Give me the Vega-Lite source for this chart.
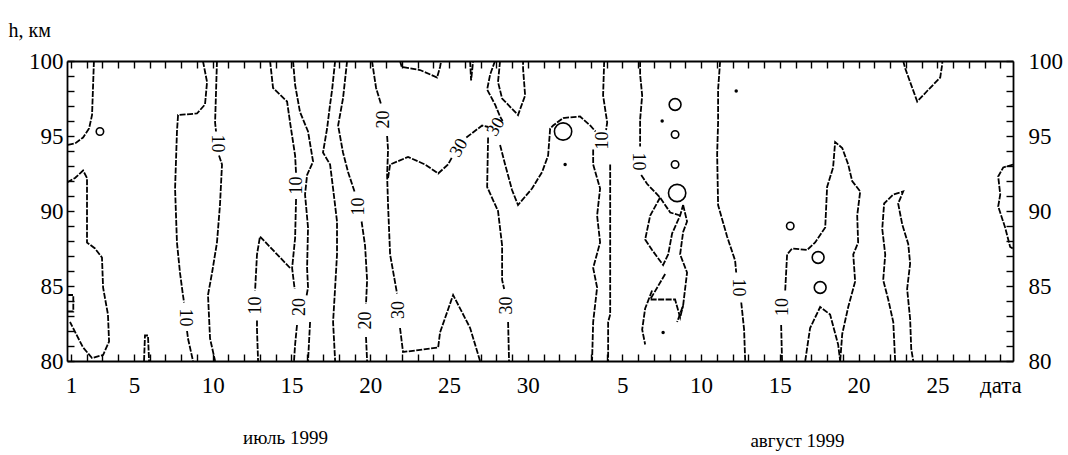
{
 "$schema": "https://vega.github.io/schema/vega-lite/v6.json",
 "width": 946, "height": 300,
 "autosize": {"type": "none"},
 "padding": {"left": 67, "top": 61, "right": 55, "bottom": 94},
 "background": "white",
 "config": {
  "view": {"stroke": null},
  "axis": {"grid": false, "domainColor": "black", "domainWidth": 1.8, "tickColor": "black", "tickWidth": 1.4, "labelColor": "black", "labelFont": "'Liberation Serif', 'Times New Roman', serif", "titleFont": "'Liberation Serif', 'Times New Roman', serif", "titleColor": "black", "titleFontWeight": "normal"}
 },
 "datasets": {
  "lines": [
   {"c":"A","d":2.46,"h":100},{"c":"A","d":2.40,"h":98.2},{"c":"A","d":2.34,"h":96.4},{"c":"A","d":2.15,"h":95.5},{"c":"A","d":1.77,"h":94.9},{"c":"A","d":1.26,"h":94.5},{"c":"A","d":0.75,"h":94.4},
   {"c":"B","d":0.75,"h":91.9},{"c":"B","d":1.26,"h":92.2},{"c":"B","d":1.77,"h":92.7},{"c":"B","d":2.02,"h":92.2},{"c":"B","d":2.02,"h":87.9},{"c":"B","d":2.53,"h":87.5},{"c":"B","d":2.97,"h":86.9},{"c":"B","d":3.04,"h":84.9},{"c":"B","d":3.35,"h":83.1},{"c":"B","d":3.42,"h":81.3},{"c":"B","d":3.04,"h":80.4},{"c":"B","d":2.34,"h":80.2},{"c":"B","d":1.77,"h":80.9},{"c":"B","d":0.94,"h":82.6},
   {"c":"Bb","d":0.75,"h":84.4},{"c":"Bb","d":1.15,"h":84.4},{"c":"Bb","d":1.15,"h":83.3},{"c":"Bb","d":0.75,"h":83.3},
   {"c":"B2","d":5.64,"h":80},{"c":"B2","d":5.70,"h":81.7},{"c":"B2","d":5.89,"h":81.7},{"c":"B2","d":5.96,"h":80},
   {"c":"C1","d":9.38,"h":100},{"c":"C1","d":9.64,"h":98.6},{"c":"C1","d":9.51,"h":97.1},{"c":"C1","d":9.00,"h":96.5},{"c":"C1","d":7.80,"h":96.4},{"c":"C1","d":7.73,"h":95.3},{"c":"C1","d":7.61,"h":91.5},{"c":"C1","d":7.73,"h":87.9},{"c":"C1","d":7.92,"h":85.9},{"c":"C1","d":8.11,"h":84.4},{"c":"C1","d":8.18,"h":83.9},
   {"c":"C2","d":8.37,"h":82.0},{"c":"C2","d":8.43,"h":81.5},{"c":"C2","d":8.75,"h":80},
   {"c":"D1","d":10.27,"h":100},{"c":"D1","d":10.15,"h":95.9},{"c":"D1","d":10.21,"h":95.3},
   {"c":"D2","d":10.40,"h":93.7},{"c":"D2","d":10.59,"h":93.1},{"c":"D2","d":10.46,"h":90.4},{"c":"D2","d":10.27,"h":87.9},{"c":"D2","d":9.96,"h":85.9},{"c":"D2","d":9.70,"h":84.4},{"c":"D2","d":9.83,"h":81.5},{"c":"D2","d":10.15,"h":80},
   {"c":"E1","d":13.64,"h":100},{"c":"E1","d":13.83,"h":98.2},{"c":"E1","d":14.72,"h":97.3},{"c":"E1","d":14.91,"h":95.9},{"c":"E1","d":15.23,"h":93.7},{"c":"E1","d":15.29,"h":92.5},
   {"c":"E2","d":15.29,"h":90.8},{"c":"E2","d":15.23,"h":88.2},{"c":"E2","d":15.04,"h":86.2},{"c":"E2","d":15.2,"h":84.8},
   {"c":"E3","d":15.35,"h":82.4},{"c":"E3","d":15.23,"h":81.1},{"c":"E3","d":15.16,"h":80},
   {"c":"F1","d":15.10,"h":100},{"c":"F1","d":15.23,"h":98.4},{"c":"F1","d":15.54,"h":96.6},{"c":"F1","d":16.05,"h":95.3},{"c":"F1","d":16.37,"h":93.3},{"c":"F1","d":15.99,"h":92.4},{"c":"F1","d":15.86,"h":91.1},{"c":"F1","d":16.05,"h":88.9},{"c":"F1","d":15.99,"h":86.2},{"c":"F1","d":16.05,"h":84.9},{"c":"F1","d":15.95,"h":84.3},
   {"c":"F2","d":16.18,"h":82.6},{"c":"F2","d":16.05,"h":80},
   {"c":"G1","d":14.91,"h":86.2},{"c":"G1","d":13.00,"h":88.3},{"c":"G1","d":12.81,"h":87.1},{"c":"G1","d":12.69,"h":84.7},
   {"c":"G2","d":12.81,"h":82.7},{"c":"G2","d":12.81,"h":82.1},{"c":"G2","d":12.88,"h":80},
   {"c":"H","d":17.77,"h":100},{"c":"H","d":17.58,"h":98.1},{"c":"H","d":17.45,"h":97.1},{"c":"H","d":17.26,"h":95.5},{"c":"H","d":17.00,"h":93.9},{"c":"H","d":17.45,"h":93.1},{"c":"H","d":17.64,"h":91.5},{"c":"H","d":17.89,"h":89.3},{"c":"H","d":17.89,"h":87.1},{"c":"H","d":17.77,"h":84.9},{"c":"H","d":17.64,"h":82.6},{"c":"H","d":17.77,"h":80},
   {"c":"I1","d":18.53,"h":100},{"c":"I1","d":18.27,"h":97.5},{"c":"I1","d":17.96,"h":95.7},{"c":"I1","d":18.27,"h":93.9},{"c":"I1","d":18.59,"h":92.6},{"c":"I1","d":19.0,"h":91.3},
   {"c":"I2","d":19.45,"h":89.3},{"c":"I2","d":19.67,"h":87.7},{"c":"I2","d":19.80,"h":85.4},{"c":"I2","d":19.73,"h":83.8},
   {"c":"I3","d":19.73,"h":81.6},{"c":"I3","d":19.80,"h":80},
   {"c":"K1","d":20.11,"h":100},{"c":"K1","d":20.37,"h":98.2},{"c":"K1","d":20.69,"h":97.1},
   {"c":"K2","d":21.07,"h":95.0},{"c":"K2","d":21.13,"h":94.1},{"c":"K2","d":21.07,"h":92.4},{"c":"K2","d":21.13,"h":90.4},{"c":"K2","d":21.26,"h":87.1},{"c":"K2","d":21.70,"h":84.5},
   {"c":"K3","d":21.89,"h":82.2},{"c":"K3","d":22.08,"h":80.6},{"c":"K3","d":22.85,"h":80.7},{"c":"K3","d":24.31,"h":80.9},{"c":"K3","d":24.43,"h":81.9},{"c":"K3","d":25.26,"h":84.4},{"c":"K3","d":26.34,"h":82.2},{"c":"K3","d":26.97,"h":80},
   {"c":"L1","d":21.13,"h":92.2},{"c":"L1","d":21.26,"h":93.1},{"c":"L1","d":22.40,"h":93.6},{"c":"L1","d":23.48,"h":93.1},{"c":"L1","d":24.31,"h":92.5},{"c":"L1","d":24.94,"h":93.1},{"c":"L1","d":25.2,"h":93.6},
   {"c":"L2","d":26.1,"h":94.9},{"c":"L2","d":27.10,"h":95.7},{"c":"L2","d":27.5,"h":95.6},
   {"c":"L3","d":27.48,"h":94.9},{"c":"L3","d":27.42,"h":91.6},{"c":"L3","d":28.11,"h":90.0},{"c":"L3","d":28.37,"h":87.7},{"c":"L3","d":28.37,"h":85.4},{"c":"L3","d":28.5,"h":84.8},
   {"c":"L4","d":28.75,"h":82.6},{"c":"L4","d":28.81,"h":80},
   {"c":"T1","d":21.89,"h":100},{"c":"T1","d":22.0,"h":99.6},{"c":"T1","d":23.16,"h":99.4},{"c":"T1","d":24.24,"h":98.9},{"c":"T1","d":24.43,"h":99.6},{"c":"T1","d":24.50,"h":100},
   {"c":"T2","d":26.34,"h":100},{"c":"T2","d":26.4,"h":98.7},{"c":"T2","d":26.53,"h":100},
   {"c":"U","d":27.92,"h":100},{"c":"U","d":27.61,"h":99.1},{"c":"U","d":27.42,"h":98.1},{"c":"U","d":27.92,"h":97.1},{"c":"U","d":28.24,"h":96.3},{"c":"U","d":28.4,"h":96.0},
   {"c":"V","d":28.24,"h":100},{"c":"V","d":28.11,"h":98.6},{"c":"V","d":28.37,"h":97.5},{"c":"V","d":29.38,"h":96.4},{"c":"V","d":29.83,"h":97.7},{"c":"V","d":29.70,"h":99.5},{"c":"V","d":29.70,"h":100},
   {"c":"W","d":28.24,"h":94.4},{"c":"W","d":28.56,"h":93.1},{"c":"W","d":29.00,"h":91.4},{"c":"W","d":29.38,"h":90.4},{"c":"W","d":30.27,"h":91.5},{"c":"W","d":30.91,"h":92.6},{"c":"W","d":31.29,"h":93.7},{"c":"W","d":31.42,"h":95.5},{"c":"W","d":31.61,"h":95.7},{"c":"W","d":32.24,"h":96.2},{"c":"W","d":33.32,"h":96.3},{"c":"W","d":33.96,"h":95.7},{"c":"W","d":34.3,"h":95.3},
   {"c":"M","d":34.15,"h":94.1},{"c":"M","d":34.15,"h":93.1},{"c":"M","d":34.59,"h":91.5},{"c":"M","d":34.40,"h":89.7},{"c":"M","d":34.59,"h":87.9},{"c":"M","d":34.15,"h":86.2},{"c":"M","d":34.40,"h":84.9},{"c":"M","d":34.15,"h":82.6},{"c":"M","d":34.08,"h":80},
   {"c":"N","d":34.85,"h":100},{"c":"N","d":34.78,"h":97.7},{"c":"N","d":35.04,"h":95.9},{"c":"N","d":34.97,"h":95.4},
   {"c":"S","d":35.23,"h":93.1},{"c":"S","d":35.23,"h":83.1},{"c":"S","d":35.10,"h":82.6},{"c":"S","d":35.10,"h":80},
   {"c":"N2a","d":37.13,"h":100},{"c":"N2a","d":37.13,"h":99.1},{"c":"N2a","d":37.26,"h":97.7},{"c":"N2a","d":37.13,"h":96.1},{"c":"N2a","d":37.13,"h":94.3},
   {"c":"N2b","d":37.2,"h":92.4},{"c":"N2b","d":37.58,"h":91.8},{"c":"N2b","d":38.40,"h":90.9},{"c":"N2b","d":39.04,"h":89.9},{"c":"N2b","d":39.67,"h":89.7},
   {"c":"DL","d":38.40,"h":90.9},{"c":"DL","d":37.77,"h":89.7},{"c":"DL","d":37.45,"h":88.1},{"c":"DL","d":37.89,"h":87.4},{"c":"DL","d":38.59,"h":86.4},{"c":"DL","d":38.91,"h":87.1},{"c":"DL","d":39.16,"h":88.5},{"c":"DL","d":39.67,"h":89.7},{"c":"DL","d":39.86,"h":90.4},
   {"c":"RW","d":39.86,"h":90.4},{"c":"RW","d":40.11,"h":89.3},{"c":"RW","d":39.86,"h":88.6},{"c":"RW","d":39.67,"h":87.1},{"c":"RW","d":40.11,"h":85.9},{"c":"RW","d":39.86,"h":83.7},{"c":"RW","d":39.48,"h":82.6},
   {"c":"TR","d":38.72,"h":85.8},{"c":"TR","d":37.77,"h":84.1},{"c":"TR","d":39.35,"h":84.1},{"c":"TR","d":39.67,"h":82.9},{"c":"TR","d":39.86,"h":83.7},
   {"c":"LL","d":37.89,"h":84.7},{"c":"LL","d":37.45,"h":83.5},{"c":"LL","d":37.26,"h":82.1},{"c":"LL","d":37.45,"h":81.1},
   {"c":"O1","d":42.21,"h":100},{"c":"O1","d":42.08,"h":98.1},{"c":"O1","d":42.08,"h":95.9},{"c":"O1","d":42.02,"h":93.8},{"c":"O1","d":42.08,"h":90.4},{"c":"O1","d":42.65,"h":88.3},{"c":"O1","d":43.16,"h":86.7},{"c":"O1","d":43.23,"h":85.9},
   {"c":"O2","d":43.55,"h":83.9},{"c":"O2","d":43.73,"h":82.1},{"c":"O2","d":43.80,"h":80},
   {"c":"P1","d":46.14,"h":80},{"c":"P1","d":46.08,"h":82.5},
   {"c":"P2","d":46.34,"h":84.7},{"c":"P2","d":46.46,"h":87.1},{"c":"P2","d":46.78,"h":87.5},{"c":"P2","d":47.73,"h":87.4},{"c":"P2","d":48.24,"h":87.9},{"c":"P2","d":48.88,"h":88.9},{"c":"P2","d":49.00,"h":91.6},{"c":"P2","d":49.38,"h":92.9},{"c":"P2","d":49.51,"h":94.6},{"c":"P2","d":49.96,"h":94.2},{"c":"P2","d":50.34,"h":93.1},{"c":"P2","d":50.59,"h":92.0},{"c":"P2","d":51.10,"h":91.3},{"c":"P2","d":50.91,"h":89.7},{"c":"P2","d":50.97,"h":87.9},{"c":"P2","d":50.66,"h":87.1},{"c":"P2","d":50.78,"h":85.3},{"c":"P2","d":50.34,"h":83.6},{"c":"P2","d":49.96,"h":81.8},{"c":"P2","d":49.83,"h":80},
   {"c":"AR","d":47.61,"h":80},{"c":"AR","d":47.92,"h":82.2},{"c":"AR","d":48.56,"h":83.6},{"c":"AR","d":49.19,"h":83.1},{"c":"AR","d":49.70,"h":81.1},{"c":"AR","d":49.83,"h":80},
   {"c":"QR","d":53.32,"h":80},{"c":"QR","d":53.20,"h":82.6},{"c":"QR","d":52.88,"h":84.1},{"c":"QR","d":52.56,"h":85.4},{"c":"QR","d":52.69,"h":87.1},{"c":"QR","d":52.50,"h":88.8},{"c":"QR","d":52.62,"h":90.5},{"c":"QR","d":53.20,"h":91.1},{"c":"QR","d":53.83,"h":91.3},{"c":"QR","d":53.51,"h":90.5},{"c":"QR","d":53.77,"h":89.1},{"c":"QR","d":54.15,"h":87.8},{"c":"QR","d":54.27,"h":86.5},{"c":"QR","d":54.08,"h":84.8},{"c":"QR","d":54.27,"h":82.8},{"c":"QR","d":54.34,"h":80.8},{"c":"QR","d":54.47,"h":80},
   {"c":"Y","d":53.83,"h":100},{"c":"Y","d":53.96,"h":99.5},{"c":"Y","d":54.27,"h":98.6},{"c":"Y","d":54.72,"h":97.3},{"c":"Y","d":55.35,"h":98.0},{"c":"Y","d":56.18,"h":98.9},{"c":"Y","d":56.31,"h":99.8},{"c":"Y","d":56.31,"h":100},
   {"c":"Z","d":60.8,"h":93.1},{"c":"Z","d":60.18,"h":92.9},{"c":"Z","d":59.86,"h":92.3},{"c":"Z","d":59.99,"h":91.1},{"c":"Z","d":59.86,"h":90.3},{"c":"Z","d":60.30,"h":88.9},{"c":"Z","d":60.62,"h":87.6},{"c":"Z","d":60.8,"h":87.5}
  ],
  "lab90": [
   {"d":8.24,"h":82.9,"t":"10"},{"d":10.30,"h":94.5,"t":"10"},{"d":37.0,"h":93.3,"t":"10"},{"d":43.35,"h":84.9,"t":"10"}
  ],
  "lab270": [
   {"d":15.35,"h":91.7,"t":"10"},{"d":12.75,"h":83.7,"t":"10"},{"d":15.54,"h":83.6,"t":"20"},{"d":19.3,"h":90.3,"t":"10"},{"d":19.73,"h":82.7,"t":"20"},{"d":20.9,"h":96.1,"t":"20"},{"d":21.83,"h":83.4,"t":"30"},{"d":28.65,"h":83.7,"t":"30"},{"d":34.75,"h":94.7,"t":"10"},{"d":46.21,"h":83.6,"t":"10"}
  ],
  "lab300": [
   {"d":25.64,"h":94.2,"t":"30"},{"d":28.0,"h":95.6,"t":"30"}
  ],
  "ringL": [{"d":32.24,"h":95.3},{"d":39.48,"h":91.2}],
  "ringM": [{"d":39.35,"h":97.1},{"d":48.43,"h":86.9},{"d":48.56,"h":84.9}],
  "ringS": [{"d":39.35,"h":95.1},{"d":39.35,"h":93.1},{"d":46.66,"h":89.0},{"d":2.84,"h":95.3}],
  "dots": [{"d":32.37,"h":93.1},{"d":38.59,"h":81.9},{"d":43.23,"h":98.0},{"d":38.53,"h":96.0}]
 },
 "layer": [
  {
   "data": {"name": "lines"},
   "mark": {"type": "line", "stroke": "black", "strokeWidth": 1.8, "strokeDash": [6, 1.5], "clip": true},
   "encoding": {
    "x": {"field": "d", "type": "quantitative", "scale": {"domain": [0.75, 60.8], "nice": false, "zero": false},
     "axis": {"orient": "bottom", "values": [1,2,3,4,5,6,7,8,9,10,11,12,13,14,15,16,17,18,19,20,21,22,23,24,25,26,27,28,29,30,31,32,33,34,35,36,37,38,39,40,41,42,43,44,45,46,47,48,49,50,51,52,53,54,55,56,57,58,59,60],
      "labelExpr": "datum.value == 60 ? 'дата' : (datum.value <= 31 ? ((datum.value == 1 || datum.value % 5 == 0) ? datum.value : '') : ((datum.value - 31) % 5 == 0 ? datum.value - 31 : ''))",
      "tickSize": -7, "labelPadding": 20, "labelFontSize": 23, "labelOverlap": false, "labelFlush": false, "labelBound": false,
      "title": "июль 1999", "titleX": 218, "titleY": 76, "titleFontSize": 19, "titleAlign": "center", "titleBaseline": "middle", "titleAnchor": null}},
    "y": {"field": "h", "type": "quantitative", "scale": {"domain": [80, 100], "nice": false, "zero": false},
     "axis": {"orient": "left", "values": [80,81,82,83,84,85,86,87,88,89,90,91,92,93,94,95,96,97,98,99,100],
      "labelExpr": "datum.value % 5 == 0 ? datum.value : ''", "tickSize": -7, "labelPadding": 11, "labelFontSize": 23, "labelOverlap": false, "labelFlush": false, "labelBound": false,
      "title": "h, км", "titleAngle": 0, "titleX": -59, "titleY": -31, "titleFontSize": 20, "titleAlign": "left", "titleBaseline": "middle", "titleAnchor": null}},
    "detail": {"field": "c"},
    "order": {"value": null}
   }
  },
  {
   "data": {"name": "ringL"},
   "mark": {"type": "point", "shape": "circle", "filled": false, "stroke": "black", "strokeWidth": 1.6, "size": 300, "opacity": 1},
   "encoding": {
    "x": {"field": "d", "type": "quantitative", "scale": {"domain": [0.75, 60.8], "nice": false, "zero": false},
     "axis": {"orient": "top", "values": [1,2,3,4,5,6,7,8,9,10,11,12,13,14,15,16,17,18,19,20,21,22,23,24,25,26,27,28,29,30,31,32,33,34,35,36,37,38,39,40,41,42,43,44,45,46,47,48,49,50,51,52,53,54,55,56,57,58,59,60],
      "labels": false, "tickSize": -7,
      "title": "август 1999", "titleX": 730, "titleY": 379, "titleFontSize": 19, "titleAlign": "center", "titleBaseline": "middle", "titleAnchor": null}},
    "y": {"field": "h", "type": "quantitative", "scale": {"domain": [80, 100], "nice": false, "zero": false},
     "axis": {"orient": "right", "values": [80,81,82,83,84,85,86,87,88,89,90,91,92,93,94,95,96,97,98,99,100],
      "labelExpr": "datum.value % 5 == 0 ? datum.value : ''", "tickSize": -7, "labelPadding": 22, "labelFontSize": 23, "labelOverlap": false, "labelFlush": false, "labelBound": false, "title": null}}
   }
  },
  {
   "data": {"name": "ringM"},
   "mark": {"type": "point", "shape": "circle", "filled": false, "stroke": "black", "strokeWidth": 1.6, "size": 140, "opacity": 1},
   "encoding": {
    "x": {"field": "d", "type": "quantitative", "scale": {"domain": [0.75, 60.8], "nice": false, "zero": false}, "axis": null},
    "y": {"field": "h", "type": "quantitative", "scale": {"domain": [80, 100], "nice": false, "zero": false}, "axis": null}
   }
  },
  {
   "data": {"name": "ringS"},
   "mark": {"type": "point", "shape": "circle", "filled": false, "stroke": "black", "strokeWidth": 1.6, "size": 55, "opacity": 1},
   "encoding": {
    "x": {"field": "d", "type": "quantitative", "scale": {"domain": [0.75, 60.8], "nice": false, "zero": false}, "axis": null},
    "y": {"field": "h", "type": "quantitative", "scale": {"domain": [80, 100], "nice": false, "zero": false}, "axis": null}
   }
  },
  {
   "data": {"name": "dots"},
   "mark": {"type": "point", "shape": "circle", "filled": true, "fill": "black", "opacity": 1, "size": 12},
   "encoding": {
    "x": {"field": "d", "type": "quantitative", "scale": {"domain": [0.75, 60.8], "nice": false, "zero": false}, "axis": null},
    "y": {"field": "h", "type": "quantitative", "scale": {"domain": [80, 100], "nice": false, "zero": false}, "axis": null}
   }
  },
  {
   "data": {"name": "lab90"},
   "mark": {"type": "text", "font": "'Liberation Serif', 'Times New Roman', serif", "fontSize": 18, "angle": 90, "color": "black"},
   "encoding": {
    "x": {"field": "d", "type": "quantitative", "scale": {"domain": [0.75, 60.8], "nice": false, "zero": false}, "axis": null},
    "y": {"field": "h", "type": "quantitative", "scale": {"domain": [80, 100], "nice": false, "zero": false}, "axis": null},
    "text": {"field": "t"}
   }
  },
  {
   "data": {"name": "lab270"},
   "mark": {"type": "text", "font": "'Liberation Serif', 'Times New Roman', serif", "fontSize": 18, "angle": 270, "color": "black"},
   "encoding": {
    "x": {"field": "d", "type": "quantitative", "scale": {"domain": [0.75, 60.8], "nice": false, "zero": false}, "axis": null},
    "y": {"field": "h", "type": "quantitative", "scale": {"domain": [80, 100], "nice": false, "zero": false}, "axis": null},
    "text": {"field": "t"}
   }
  },
  {
   "data": {"name": "lab300"},
   "mark": {"type": "text", "font": "'Liberation Serif', 'Times New Roman', serif", "fontSize": 18, "angle": 300, "color": "black"},
   "encoding": {
    "x": {"field": "d", "type": "quantitative", "scale": {"domain": [0.75, 60.8], "nice": false, "zero": false}, "axis": null},
    "y": {"field": "h", "type": "quantitative", "scale": {"domain": [80, 100], "nice": false, "zero": false}, "axis": null},
    "text": {"field": "t"}
   }
  }
 ],
 "resolve": {"axis": {"x": "independent", "y": "independent"}}
}
